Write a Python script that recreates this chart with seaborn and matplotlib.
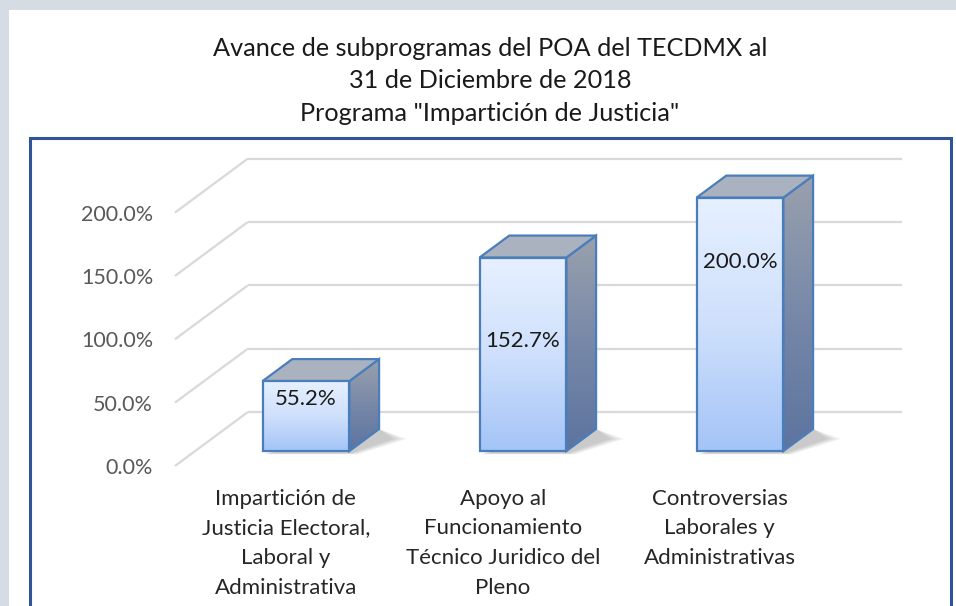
import numpy as np
import matplotlib
matplotlib.use("Agg")
import matplotlib.pyplot as plt
import matplotlib.patches as mpatches
from matplotlib.colors import LinearSegmentedColormap
import seaborn as sns

# data
categories = [
    "Impartición de\nJusticia Electoral,\nLaboral y\nAdministrativa",
    "Apoyo al\nFuncionamiento\nTécnico Juridico del\nPleno",
    "Controversias\nLaborales y\nAdministrativas",
]
avance = [55.2, 152.7, 200.0]
y_ticks = [0, 50, 100, 150, 200]
y_tick_labels = ["0.0%", "50.0%", "100.0%", "150.0%", "200.0%"]
title_lines = [
    "Avance de subprogramas del POA del TECDMX al",
    "31 de Diciembre de 2018",
    'Programa "Impartición de Justicia"',
]
# where the value label sits inside each bar (fraction of bar height)
label_frac = [0.75, 0.57, 0.745]

sns.set_theme(style="white")
plt.rcParams["font.family"] = ["Lato", "DejaVu Sans"]

W, H = 956, 606
fig = plt.figure(figsize=(W / 100, H / 100), dpi=100, facecolor="#d6dce4")

# white panel and dark blue frame
fig.add_artist(mpatches.Rectangle((9 / W, -0.1), 1.0, 1.1 - 10 / H,
                                  transform=fig.transFigure, facecolor="white",
                                  edgecolor="none", zorder=-5))
fig.add_artist(mpatches.Rectangle((30 / W, -0.1), (951 - 30) / W, 0.1 + (606 - 138) / H,
                                  transform=fig.transFigure, fill=False,
                                  edgecolor="#2f5597", linewidth=2.2, zorder=5))

for i, line in enumerate(title_lines):
    fig.text(490 / W, 1 - (48 + 33 * i) / H, line, ha="center", va="center",
             fontsize=18.2, color="#1a1a1a")

# axes: 217 px per category, 1.267 px per percent point
ax = fig.add_axes([160 / W, (606 - 475) / H, 770 / W, 335 / H])
ax.set_facecolor("none")

# 3D geometry (data units)
depth = np.array([0.336, 42.6])      # floor front -> back wall
front_frac = 0.278                    # bar front face position in the depth
bar_frac = 0.407                      # bar depth
fx, fy = -front_frac * depth
bx, by = (1 - front_frac) * depth
dx, dy = bar_frac * depth
grid_x0, grid_x1 = -0.604, 2.747
grid_color = "#d9d9d9"

for v in y_ticks:
    ax.plot([grid_x0, grid_x0 + depth[0]], [v + fy, v + by], color=grid_color,
            lw=1.6, zorder=1, solid_capstyle="butt")
    ax.plot([grid_x0 + depth[0], grid_x1], [v + by, v + by], color=grid_color,
            lw=1.6, zorder=1, solid_capstyle="butt")

# front faces via seaborn
edge = "#4a7ebb"
sns.barplot(x=categories, y=avance, color="#c5dafb", width=0.4, edgecolor=edge,
            linewidth=1.6, ax=ax, zorder=6)
bars = list(ax.patches)

front_cmap = LinearSegmentedColormap.from_list("front", ["#a4c4f7", "#cfe0fc", "#e6f0ff"])
side_cmap = LinearSegmentedColormap.from_list("side", ["#5d74a0", "#7788a8", "#9aa1ae"])
grad = np.linspace(0, 1, 256).reshape(-1, 1)

for bar in bars:
    xl = bar.get_x()
    w = bar.get_width()
    xr = xl + w
    v = bar.get_height()

    # soft shadow on the floor
    for k in range(5):
        e = 0.008 * (5 - k)
        shadow = mpatches.Polygon(
            [(xl + 0.01, -1.5 - e * 30), (xr + e, -1.5 - e * 30),
             (xr + dx + 0.05 + e * 2, dy * 0.55), (xr + dx, dy)],
            closed=True, facecolor="#000000", alpha=0.045, edgecolor="none", zorder=2)
        ax.add_patch(shadow)

    # side face with gradient
    side = mpatches.Polygon([(xr, 0), (xr + dx, dy), (xr + dx, v + dy), (xr, v)],
                            closed=True, facecolor="none", edgecolor=edge, lw=1.6, zorder=5)
    ax.add_patch(side)
    im = ax.imshow(grad, cmap=side_cmap, origin="lower", aspect="auto",
                   extent=[xr, xr + dx, 0, v + dy], zorder=4)
    im.set_clip_path(side)

    # top face
    top = mpatches.Polygon([(xl, v), (xr, v), (xr + dx, v + dy), (xl + dx, v + dy)],
                           closed=True, facecolor="#aab1bf", edgecolor=edge, lw=1.6, zorder=5)
    ax.add_patch(top)

    # front face gradient
    bar.set_facecolor("none")
    im = ax.imshow(grad, cmap=front_cmap, origin="lower", aspect="auto",
                   extent=[xl, xr, 0, v], zorder=5.5)
    im.set_clip_path(bar)

for i, v in enumerate(avance):
    ax.text(i, v * label_frac[i], f"{v:.1f}%", ha="center", va="center",
            fontsize=16, color="#1a1a1a", zorder=10)

ax.set_xlim((160 - 306) / 217, (930 - 306) / 217)
ax.set_ylim((451 - 475) / 1.267, (451 - 140) / 1.267)

ax.set_yticks([v + fy for v in y_ticks])
ax.set_yticklabels(y_tick_labels)
ax.set_xticks([i + fx for i in range(len(categories))])
ax.set_xticklabels(categories)
ax.tick_params(axis="y", length=0, pad=5, labelsize=15.5, labelcolor="#595959")
ax.tick_params(axis="x", length=0, pad=10, labelsize=16, labelcolor="#262626")
for t in ax.get_xticklabels():
    t.set_linespacing(1.6)
ax.set_xlabel("")
ax.set_ylabel("")
for s in ax.spines.values():
    s.set_visible(False)

fig.savefig("out.png", dpi=100, facecolor=fig.get_facecolor())
